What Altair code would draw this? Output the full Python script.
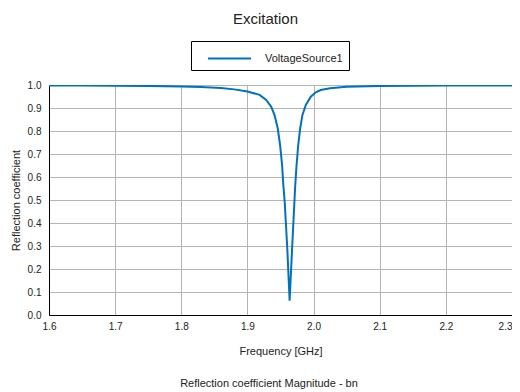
import altair as alt
import pandas as pd

freq = [1.60, 1.65, 1.70, 1.75, 1.80, 1.83, 1.86, 1.88, 1.90, 1.9184, 1.9284, 1.9359,
        1.9409, 1.9458, 1.9494, 1.9524, 1.9543, 1.9565, 1.9603, 1.9638, 1.9675,
        1.9708, 1.9723, 1.9743, 1.9768, 1.9798, 1.9832, 1.9883, 1.9958, 2.0033,
        2.0108, 2.025, 2.05, 2.10, 2.15, 2.20, 2.25, 2.30]
refl = [0.998, 0.998, 0.997, 0.996, 0.994, 0.991, 0.987, 0.981, 0.972, 0.957, 0.935, 0.906,
        0.870, 0.812, 0.739, 0.652, 0.565, 0.485, 0.287, 0.062, 0.287,
        0.478, 0.565, 0.652, 0.739, 0.812, 0.870, 0.913, 0.949, 0.968,
        0.978, 0.986, 0.992, 0.996, 0.997, 0.998, 0.998, 0.998]
series = ["VoltageSource1"] * len(freq)
x_ticks = [1.6, 1.7, 1.8, 1.9, 2.0, 2.1, 2.2, 2.3]
y_ticks = [0.0, 0.1, 0.2, 0.3, 0.4, 0.5, 0.6, 0.7, 0.8, 0.9, 1.0]
footer = ["Reflection coefficient Magnitude - bn"]

df = pd.DataFrame({"freq": freq, "refl": refl, "series": series})
FONT = "Liberation Sans"

line = alt.Chart(df).mark_line(strokeWidth=2, clip=True).encode(
    x=alt.X("freq:Q", scale=alt.Scale(domain=[1.6, 2.3], nice=False, zero=False),
            axis=alt.Axis(values=x_ticks, format=".1f", title="Frequency [GHz]",
                          titlePadding=14,
                          labelAlign=alt.ExprRef(expr="datum.value > 2.25 ? 'right' : 'center'"))),
    y=alt.Y("refl:Q", scale=alt.Scale(domain=[0, 1], nice=False),
            axis=alt.Axis(values=y_ticks, format=".1f", title="Reflection coefficient",
                          titlePadding=6)),
    color=alt.Color("series:N", scale=alt.Scale(range=["#0072BD"]),
                    legend=alt.Legend(title=None, orient="none", legendX=142, legendY=-44,
                                      strokeColor="black", fillColor="white", padding=6,
                                      symbolType="M-0.05,0H4.05", symbolSize=441,
                                      symbolStrokeWidth=2, labelFontSize=11,
                                      labelOffset=45, labelFont=FONT, labelColor="#222",
                                      labelExpr="datum.label + '   '")),
)

foot = alt.Chart(pd.DataFrame({"t": footer})).mark_text(
    fontSize=11, font=FONT, color="#222", align="center", baseline="middle"
).encode(text="t:N", x=alt.value(220), y=alt.value(299))

chart = alt.layer(line, foot).properties(
    width=463, height=230,
    title=alt.TitleParams("Excitation", fontSize=15, font=FONT, fontWeight="normal",
                          color="#222", anchor="middle", dx=-15, offset=14),
    autosize=alt.AutoSizeParams(type="none"),
    padding={"left": 41, "top": 77, "right": 0, "bottom": 76},
).configure_view(stroke="#555", strokeWidth=1).configure_axis(
    labelFont=FONT, titleFont=FONT, labelFontSize=10, titleFontSize=11,
    titleFontWeight="normal", labelColor="#222", titleColor="#222",
    domainColor="black", domainWidth=1, ticks=False, labelPadding=6,
    gridColor="#b4b4b4", gridWidth=1, gridOpacity=1,
).configure_axisX(labelPadding=6, labelFlush=False).configure_axisY(labelPadding=8)

chart.save("out.html", embed_options={"renderer": "svg", "actions": False})
